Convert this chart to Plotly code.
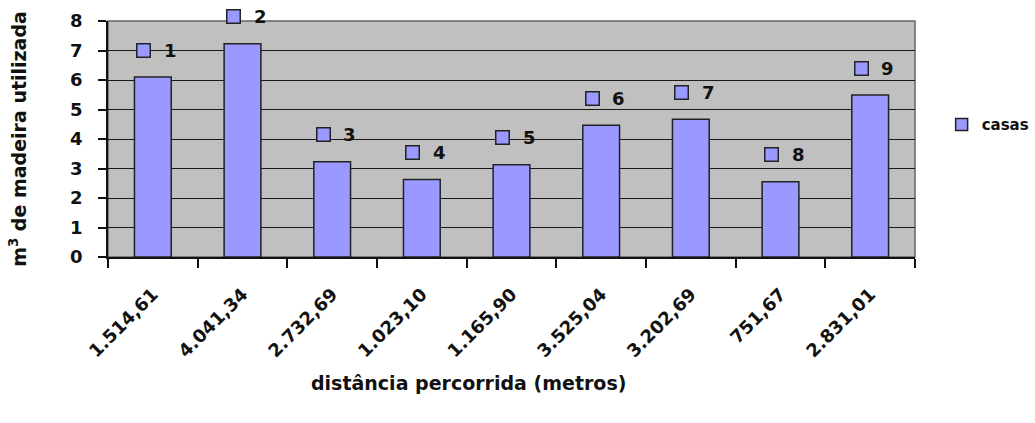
import plotly.graph_objects as go

distances = ["1.514,61", "4.041,34", "2.732,69", "1.023,10", "1.165,90",
             "3.525,04", "3.202,69", "751,67", "2.831,01"]
volumes = [6.10, 7.23, 3.23, 2.63, 3.13, 4.47, 4.67, 2.55, 5.49]
house_ids = ["1", "2", "3", "4", "5", "6", "7", "8", "9"]
series_name = "casas"

positions = list(range(len(distances)))

FONT = "DejaVu Sans"
BAR_COLOR = "#9999FF"
EDGE = "#222222"

fig = go.Figure()
fig.add_trace(go.Bar(
    x=positions, y=volumes, name=series_name, width=0.41,
    marker=dict(color=BAR_COLOR, line=dict(color=EDGE, width=1.5)),
    showlegend=True,
))

annotations = []
for p, v, hid in zip(positions, volumes, house_ids):
    annotations.append(dict(
        x=p, y=v, xref="x", yref="y", text=" ", showarrow=False,
        width=12, height=12, bgcolor=BAR_COLOR, bordercolor=EDGE, borderwidth=1.5,
        borderpad=0, xshift=-9, yshift=27, font=dict(size=6)))
    annotations.append(dict(
        x=p, y=v, xref="x", yref="y", text="<b>%s</b>" % hid, showarrow=False,
        xanchor="left", xshift=9, yshift=27,
        font=dict(family=FONT, size=18, color="#111111")))

annotations.append(dict(
    text="<b>distância percorrida (metros)</b>", xref="paper", yref="paper",
    x=0.447, y=-0.534, xanchor="center", yanchor="middle",
    showarrow=False, font=dict(family=FONT, size=19, color="#111111")))

fig.update_layout(
    width=1035, height=423,
    margin=dict(l=108, r=120, t=21, b=166, autoexpand=False),
    paper_bgcolor="white", plot_bgcolor="#C0C0C0",
    font=dict(family=FONT, color="#111111"),
    legend=dict(x=1.033, y=0.56, xanchor="left", yanchor="middle",
                font=dict(family=FONT, size=15, weight="bold"),
                bgcolor="rgba(0,0,0,0)", itemwidth=30),
    shapes=[dict(type="rect", xref="paper", yref="paper", x0=0, y0=0, x1=1, y1=1,
                 line=dict(color="#666666", width=1.5), layer="below")],
    annotations=annotations,
)
fig.update_xaxes(
    range=[-0.5, 8.5], tickmode="array", tickvals=positions, ticktext=distances,
    tickangle=-45, ticks="", showgrid=False, zeroline=False,
    showline=True, linecolor="#111111", linewidth=1.5,
    tickfont=dict(family=FONT, size=18, weight="bold"),
    ticklabelstandoff=18,
    minor=dict(tickvals=[p - 0.5 for p in positions] + [positions[-1] + 0.5],
               ticks="outside", ticklen=9, tickcolor="#111111", tickwidth=1.5, showgrid=False),
)
fig.update_yaxes(
    range=[0, 8], dtick=1, ticks="outside", ticklen=8, tickcolor="#111111", tickwidth=1.5,
    showgrid=True, gridcolor="#1a1a1a", gridwidth=1.4, zeroline=False,
    showline=True, linecolor="#111111", linewidth=1.5,
    tickfont=dict(family=FONT, size=18, weight="bold"),
    ticklabelstandoff=12,
    title=dict(text="<b>m<sup>3</sup> de madeira utilizada</b>",
               font=dict(family=FONT, size=19, color="#111111"), standoff=38),
)

fig.write_html("out.html")
